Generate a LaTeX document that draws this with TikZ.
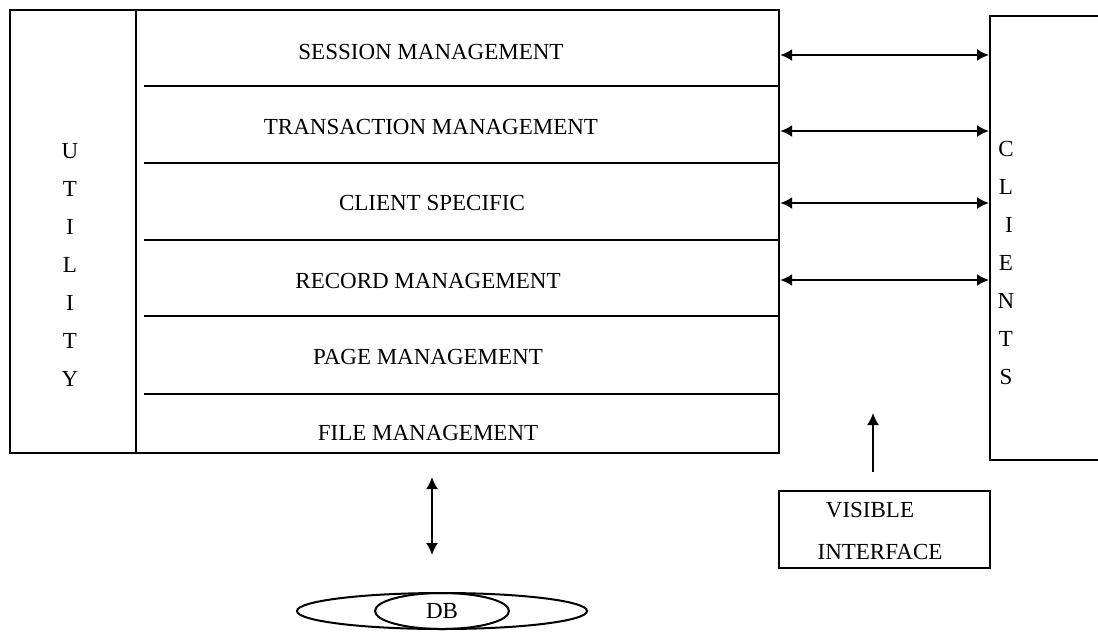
\documentclass[tikz,border=0pt]{standalone}
\usepackage{fontspec}
\setmainfont{Liberation Serif}
\usetikzlibrary{arrows.meta,shapes.geometric}
\begin{document}
\begin{tikzpicture}[x=1pt,y=-1pt,line width=2.2pt,
  lbl/.style={font=\fontsize{23}{27}\selectfont,inner sep=0pt},
  vlbl/.style={font=\fontsize{23}{38}\selectfont,inner sep=0pt,align=center},
  box/.style={draw,rectangle,inner sep=0pt,anchor=north west},
  arr/.style={-{Latex[length=12pt,width=12pt]}},
  darr/.style={{Latex[length=12pt,width=12pt]}-{Latex[length=12pt,width=12pt]}},
  sep/.style={line width=2pt}]
\useasboundingbox (0,0) rectangle (1098,633);
% main stack
\node[box,minimum width=769pt,minimum height=443pt] (stack) at (9,9) {};
\node[box,minimum width=126pt,minimum height=443pt] (utility) at (9,9) {};
\node[vlbl] (utext) at (70,265) {U\\T\\I\\L\\I\\T\\Y};
% separators
\foreach \y in {86,163,240,316,394} \draw[sep] (144,\y) -- (stack.east |- 0,\y);
% layer labels
\node[lbl] (session) at (431,52) {SESSION MANAGEMENT};
\node[lbl] (trans) at (431,127) {TRANSACTION MANAGEMENT};
\node[lbl] (client) at (432,203) {CLIENT SPECIFIC};
\node[lbl] (record) at (428,281) {RECORD MANAGEMENT};
\node[lbl] (page) at (428,357) {PAGE MANAGEMENT};
\node[lbl] (file) at (428,433) {FILE MANAGEMENT};
% clients
\node[box,minimum width=130pt,minimum height=444pt] (clients) at (989,15) {};
\node[vlbl] (ctext) at (1006,263) {C\\L\\\hspace*{6pt}I\\E\\N\\T\\S};
% arrows
\foreach \y in {55,131,203,280}
  \draw[darr,line width=2pt] (stack.east |- 0,\y) -- (clients.west |- 0,\y);
% visible interface
\node[box,minimum width=211pt,minimum height=77pt,line width=1.8pt] (vis) at (778,490) {};
\node[lbl] (vis1) at (870,510) {VISIBLE};
\node[lbl] (vis2) at (880,552) {INTERFACE};
\coordinate (visup) at (873,472);
\coordinate (vistip) at (873,413);
\draw[arr,line width=2pt] (visup) -- (vistip);
% DB
\node[draw,ellipse,line width=2pt,minimum width=290pt,minimum height=36pt,inner sep=0pt] (dbouter) at (442,611) {};
\node[draw,ellipse,line width=2pt,minimum width=134pt,minimum height=36pt,inner sep=0pt,lbl] (db) at (442,611) {DB};
\coordinate (dbtop) at (432,477);
\coordinate (dbbot) at (432,555);
\draw[darr,line width=2pt] (dbtop) -- (dbbot);
\end{tikzpicture}
\end{document}
